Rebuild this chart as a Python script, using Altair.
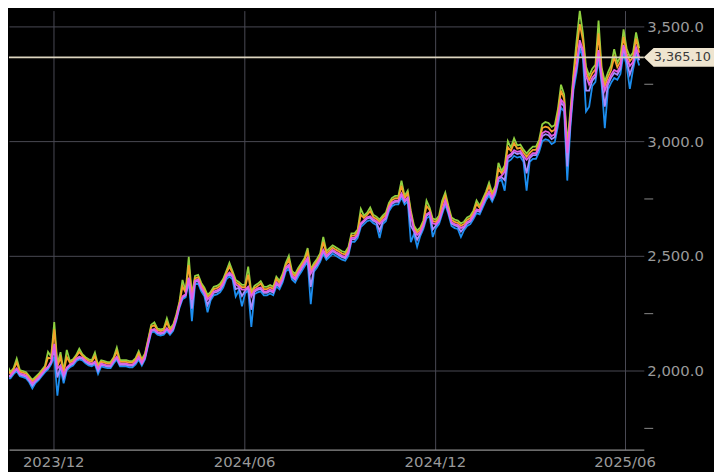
import altair as alt
import pandas as pd

# ---- data (3-day grid starting 2023-10-12) ----
START = "2023-10-12"
STEP_DAYS = 3

MID = [1922,1931,1978,1978,1996,2009,1987,1983,1978,1961,
       1944,1957,1970,1987,2004,2017,2039,2116,2009,2022,
       1983,2013,2026,2034,2052,2060,2056,2043,2034,2030,
       2039,2009,2030,2026,2022,2022,2043,2060,2030,2030,
       2030,2026,2026,2039,2060,2034,2060,2121,2177,2181,
       2168,2164,2168,2185,2168,2185,2228,2284,2323,2332,
       2405,2310,2392,2397,2362,2341,2310,2323,2345,2349,
       2358,2379,2414,2427,2414,2375,2366,2353,2353,2366,
       2323,2349,2358,2362,2345,2345,2353,2345,2384,2371,
       2401,2448,2461,2414,2401,2427,2448,2470,2491,2422,
       2448,2466,2491,2526,2500,2513,2526,2517,2509,2500,
       2496,2517,2578,2578,2595,2642,2655,2668,2672,2659,
       2651,2638,2655,2668,2711,2733,2741,2741,2772,2741,
       2754,2677,2612,2591,2603,2634,2681,2690,2642,2638,
       2655,2698,2741,2698,2647,2638,2634,2621,2629,2647,
       2655,2677,2703,2698,2728,2759,2780,2754,2784,2841,
       2849,2866,2935,2944,2961,2953,2957,2935,2918,2935,
       2948,2948,2978,3034,3043,3039,3022,3030,3099,3181,
       3164,2948,3095,3259,3336,3440,3397,3284,3246,3276,
       3293,3397,3280,3220,3259,3289,3310,3302,3328,3418,
       3362,3328,3345,3409,3365.1]

HIGH = [1937,1946,2022,1993,2011,2052,2002,1998,1993,1976,
        1959,1972,1985,2002,2019,2082,2060,2211,2030,2080,
        1998,2090,2041,2049,2067,2095,2071,2058,2049,2045,
        2078,2024,2045,2041,2037,2037,2058,2100,2045,2045,
        2045,2041,2041,2054,2085,2049,2075,2136,2200,2210,
        2183,2179,2183,2228,2183,2200,2243,2299,2395,2347,
        2496,2330,2412,2417,2382,2361,2330,2343,2365,2369,
        2378,2399,2434,2470,2434,2395,2386,2373,2373,2453,
        2343,2369,2378,2390,2365,2365,2373,2365,2409,2391,
        2421,2468,2500,2434,2421,2447,2468,2490,2534,2442,
        2468,2486,2511,2582,2520,2533,2546,2537,2529,2520,
        2516,2537,2598,2598,2615,2705,2675,2688,2711,2679,
        2671,2658,2675,2688,2731,2753,2761,2761,2828,2761,
        2784,2697,2632,2611,2623,2654,2741,2710,2662,2658,
        2675,2740,2776,2718,2667,2658,2654,2641,2649,2667,
        2675,2697,2741,2718,2748,2779,2819,2774,2804,2905,
        2869,2894,3000,2972,3013,2981,2985,2963,2946,2963,
        2976,2976,3006,3073,3083,3079,3062,3070,3139,3246,
        3204,2988,3135,3299,3440,3569,3470,3324,3286,3316,
        3333,3526,3320,3260,3299,3329,3401,3342,3368,3487,
        3402,3368,3385,3474,3405]

UPPER = [1930,1939,2004,1986,2004,2035,1995,1991,1986,1969,
         1952,1965,1978,1995,2012,2056,2052,2180,2017,2057,
         1991,2059,2034,2042,2060,2081,2064,2051,2042,2038,
         2062,2017,2038,2034,2030,2030,2051,2084,2038,2038,
         2038,2034,2034,2047,2075,2042,2068,2129,2191,2198,
         2176,2172,2176,2211,2176,2193,2236,2292,2366,2340,
         2460,2320,2402,2407,2372,2351,2320,2333,2355,2359,
         2368,2389,2424,2453,2424,2385,2376,2363,2363,2418,
         2333,2359,2368,2379,2355,2355,2363,2355,2399,2381,
         2411,2458,2484,2424,2411,2437,2458,2480,2517,2432,
         2458,2476,2501,2560,2510,2523,2536,2527,2519,2510,
         2506,2527,2588,2588,2605,2680,2665,2678,2695,2669,
         2661,2648,2665,2678,2721,2743,2751,2751,2806,2751,
         2772,2687,2622,2601,2613,2644,2717,2700,2652,2648,
         2665,2723,2762,2708,2657,2648,2644,2631,2639,2657,
         2665,2687,2726,2708,2738,2769,2803,2764,2794,2879,
         2859,2880,2974,2958,2992,2967,2971,2949,2932,2949,
         2962,2962,2992,3057,3063,3059,3042,3050,3119,3220,
         3184,2968,3115,3279,3398,3510,3440,3304,3266,3296,
         3313,3470,3300,3240,3279,3309,3365,3322,3348,3455,
         3382,3348,3365,3448,3385]

LOWER = [1917,1926,1973,1973,1991,2004,1982,1978,1973,1956,
         1934,1952,1965,1982,1999,2012,2034,2095,1970,2017,
         1968,2008,2021,2029,2047,2055,2051,2038,2029,2025,
         2034,1998,2025,2021,2017,2017,2038,2055,2025,2025,
         2025,2021,2021,2034,2055,2029,2055,2116,2172,2176,
         2163,2159,2163,2180,2163,2180,2223,2279,2318,2327,
         2399,2270,2386,2391,2356,2335,2285,2317,2339,2343,
         2352,2373,2408,2421,2408,2355,2360,2325,2347,2360,
         2265,2343,2352,2356,2339,2339,2347,2339,2378,2365,
         2395,2442,2455,2408,2395,2421,2442,2464,2485,2365,
         2442,2460,2485,2520,2494,2507,2520,2511,2503,2494,
         2490,2511,2572,2572,2589,2636,2649,2662,2666,2653,
         2645,2610,2649,2662,2705,2727,2735,2735,2766,2735,
         2748,2630,2606,2570,2597,2628,2675,2684,2615,2632,
         2649,2692,2735,2692,2641,2632,2628,2605,2623,2641,
         2649,2671,2697,2692,2722,2753,2774,2748,2778,2835,
         2843,2830,2926,2935,2952,2944,2948,2926,2860,2926,
         2939,2939,2969,3021,3030,3026,3009,3017,3086,3168,
         3151,2890,3082,3246,3323,3427,3384,3220,3220,3263,
         3280,3384,3267,3150,3246,3276,3297,3289,3315,3405,
         3349,3290,3332,3396,3352]

LOW = [1910,1919,1966,1966,1984,1997,1975,1971,1966,1949,
       1922,1945,1958,1975,1992,2005,2027,2060,1890,2010,
       1944,2001,2014,2022,2040,2048,2044,2031,2022,2018,
       2027,1985,2018,2014,2010,2010,2031,2048,2018,2018,
       2018,2014,2014,2027,2048,2022,2048,2109,2165,2169,
       2156,2152,2156,2173,2156,2173,2216,2272,2311,2320,
       2388,2215,2375,2380,2345,2324,2254,2306,2328,2332,
       2341,2362,2397,2410,2397,2323,2349,2280,2336,2349,
       2190,2332,2341,2345,2328,2328,2336,2328,2367,2354,
       2384,2431,2444,2397,2384,2410,2431,2453,2474,2289,
       2431,2449,2474,2509,2483,2496,2509,2500,2492,2483,
       2479,2500,2561,2561,2578,2625,2638,2651,2655,2642,
       2634,2578,2638,2651,2694,2716,2724,2724,2755,2724,
       2737,2560,2595,2539,2586,2617,2664,2673,2582,2621,
       2638,2681,2724,2681,2630,2621,2617,2582,2612,2630,
       2638,2660,2686,2681,2711,2742,2763,2737,2767,2824,
       2832,2784,2910,2919,2936,2928,2932,2910,2784,2910,
       2923,2923,2953,2999,3008,3004,2987,2995,3064,3146,
       3129,2828,3060,3224,3301,3405,3362,3129,3150,3241,
       3258,3362,3245,3056,3224,3254,3275,3267,3293,3383,
       3327,3228,3310,3374,3330]

LAST_PRICE = 3365.10
Y_TICKS = [1750, 1875, 2000, 2125, 2250, 2375, 2500, 2625, 2750, 2875,
           3000, 3125, 3250, 3375, 3500]
X_TICKS = [(2023, 12), (2024, 6), (2024, 12), (2025, 6)]

# ---- build table ----
dates = pd.date_range(START, periods=len(MID), freq=f"{STEP_DAYS}D")
series = [
    ("low", LOW, "#1c8ef0"),
    ("high", HIGH, "#8fd13f"),
    ("upper", UPPER, "#f6a12a"),
    ("lower", LOWER, "#a58cff"),
    ("mid", MID, "#e35ee3"),
]
df = pd.concat(
    [pd.DataFrame({"date": dates, "value": vals, "series": name})
     for name, vals, _ in series],
    ignore_index=True,
)

FONT = "DejaVu Sans"
W, H = 642, 444

x_enc = alt.X(
    "date:T",
    scale=alt.Scale(domain=[
        alt.DateTime(year=2023, month=10, date=19, hours=14),
        alt.DateTime(year=2025, month=6, date=19, hours=9, minutes=30),
    ]),
    axis=alt.Axis(
        values=[alt.DateTime(year=y, month=m, date=1) for y, m in X_TICKS],
        format="%Y/%m", title=None, grid=True, gridColor="#4a4a54",
        gridWidth=1, ticks=False, domainColor="#8e8e8e", domainWidth=1.5,
        labelColor="#9a9a9a", labelFont=FONT, labelFontSize=15,
        labelPadding=5, labelFlush=False, labelOverlap=False,
    ),
)
y_enc = alt.Y(
    "value:Q",
    scale=alt.Scale(domain=[1655.2, 3569.0], nice=False, zero=False),
    axis=alt.Axis(
        orient="right", values=Y_TICKS, title=None, domain=False,
        labelExpr="datum.value % 500 === 0 ? format(datum.value, ',.1f') : ''",
        grid=True, gridColor="#4a4a54", gridWidth=1,
        gridOpacity={"condition": {"test": "datum.value % 500 === 0", "value": 1}, "value": 0},
        tickOpacity={"condition": {"test": "datum.value % 500 === 0", "value": 0}, "value": 1},
        tickColor="#8a8a8a", tickSize=9, tickWidth=1,
        labelColor="#9a9a9a", labelFont=FONT, labelFontSize=15,
        labelPadding=-6, labelBaseline="middle",
    ),
)

base = alt.Chart(df)
layers = []
for name, _, color in series:
    layers.append(
        base.transform_filter(alt.datum.series == name)
        .mark_line(color=color, strokeWidth=1.8, clip=True)
        .encode(x=x_enc, y=y_enc)
    )

last_df = pd.DataFrame({"v": [LAST_PRICE]})
last = alt.Chart(last_df)
rule = last.mark_rule(color="#ddd5c0", strokeWidth=2).encode(y=alt.Y("v:Q"))
tag = last.mark_point(
    shape="M -1 0 L -0.72 -0.27 L 1 -0.27 L 1 0.27 L -0.72 0.27 Z",
    filled=True, fill="#efe5d0", stroke=None, opacity=1, size=5041,
).encode(x=alt.value(677.5), y=alt.Y("v:Q"))
tag_text = last.mark_text(
    align="left", baseline="middle", font=FONT, fontSize=13, color="#3a3a3a",
).encode(x=alt.value(652), y=alt.Y("v:Q"), text=alt.Text("v:Q", format=",.2f"))

chart = (
    alt.layer(*layers, rule, tag, tag_text)
    .properties(width=W, height=H, background="#000000",
                padding={"left": 0, "top": 0, "right": 0, "bottom": 0})
    .configure_view(stroke=None)
)

chart.save("out.html", embed_options={"renderer": "svg", "actions": False})
